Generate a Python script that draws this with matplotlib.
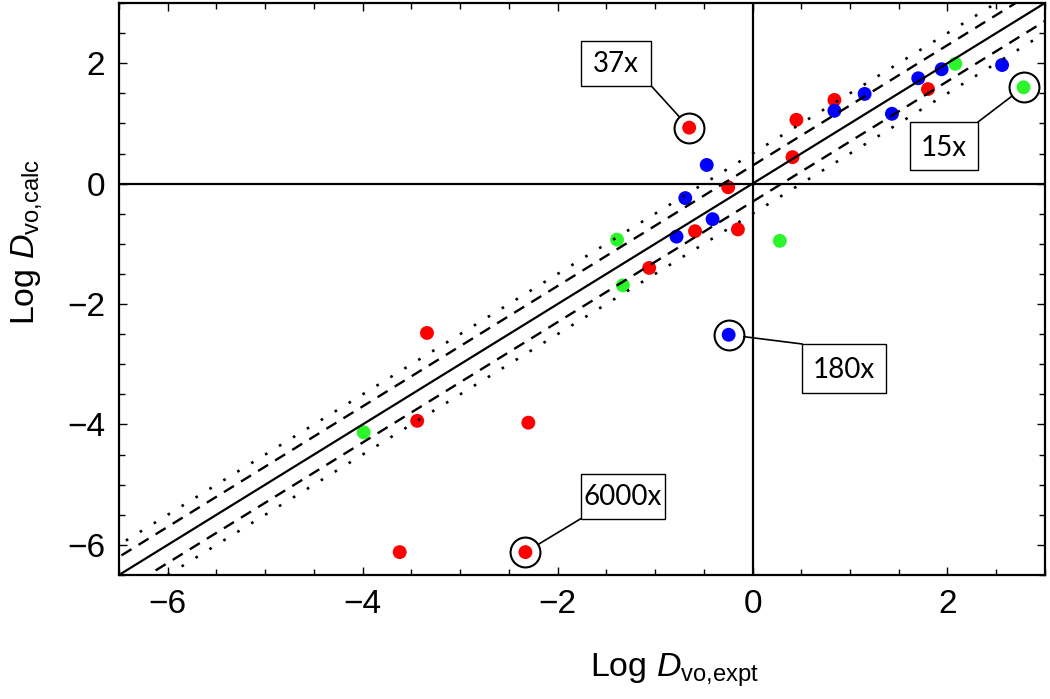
import numpy as np
import matplotlib
matplotlib.use("Agg")
import matplotlib.pyplot as plt
import matplotlib.patches as mpatches
import matplotlib.transforms as mtransforms

plt.rcParams['font.family'] = ['Liberation Sans', 'DejaVu Sans']
plt.rcParams['mathtext.fontset'] = 'custom'
plt.rcParams['mathtext.rm'] = 'Liberation Sans'
plt.rcParams['mathtext.it'] = 'Liberation Sans:italic'

# значення
red_x = [-0.65, -0.25, -0.59, -0.15, -1.06, 0.45, 0.41, 0.84, 1.80, -3.34, -3.44, -2.30, -3.62, -2.33]
red_y = [0.93, -0.06, -0.79, -0.76, -1.40, 1.06, 0.44, 1.39, 1.57, -2.48, -3.94, -3.97, -6.12, -6.12]
blue_x = [-0.47, -0.69, -0.41, -0.78, 0.84, 1.15, 1.43, 1.70, 1.94, 2.56, -0.245]
blue_y = [0.31, -0.24, -0.59, -0.88, 1.21, 1.49, 1.16, 1.75, 1.90, 1.97, -2.51]
green_x = [0.28, -1.39, -1.33, 2.08, 2.78, -3.99]
green_y = [-0.95, -0.93, -1.69, 1.99, 1.60, -4.13]

# виділені точки та підписи
out_x = [-0.65, 2.78, -0.245, -2.33]
out_y = [0.93, 1.60, -2.51, -6.12]
out_labels = ["37x", "15x", "180x", "6000x"]
label_x = [-1.40, 1.96, 0.94, -1.33]
label_y = [2.00, 0.62, -3.07, -5.19]
# розмір рамки (дюйми) і кут, з якого йде лінія
box_w = [0.70, 0.68, 0.84, 0.84]
box_h = [0.45, 0.48, 0.49, 0.45]
label_corner = [(1, -1), (1, 1), (-1, 1), (-1, -1)]

dashed_off = 0.3
dotted_off = 0.5

fig = plt.figure(figsize=(10.5, 6.99), dpi=100)
ax = fig.add_axes([0.1133, 0.1774, 0.8819, 0.8183])

xs = np.array([-7, 4])
ax.plot(xs, xs, color='black', lw=1.6, zorder=3)
for s in (1, -1):
    ax.plot(xs, xs + s * dashed_off, color='black', lw=1.7, ls=(0, (5, 3.5)), zorder=3)
    ax.plot(xs, xs + s * dotted_off, color='black', lw=1.9, ls=(0, (1, 5.2)), zorder=3)

ax.axhline(0, color='black', lw=1.6, zorder=3)
ax.axvline(0, color='black', lw=1.6, zorder=3)

ax.scatter(red_x, red_y, s=100, color='#ff0000', edgecolors='none', zorder=2)
ax.scatter(blue_x, blue_y, s=100, color='#0000ff', edgecolors='none', zorder=2)
ax.scatter(green_x, green_y, s=100, color='#2cf52c', edgecolors='none', zorder=2)

ax.plot(out_x, out_y, 'o', ms=21.5, mfc='none', mec='black', mew=1.5, zorder=4)

for i in range(len(out_labels)):
    tr = fig.dpi_scale_trans + mtransforms.ScaledTranslation(label_x[i], label_y[i], ax.transData)
    w, h = box_w[i], box_h[i]
    ax.add_patch(mpatches.Rectangle((-w / 2, -h / 2), w, h, transform=tr,
                                    fc='white', ec='black', lw=1.0, zorder=5))
    ax.text(label_x[i], label_y[i] - 0.02, out_labels[i], ha='center', va='center',
            fontsize=20, family='Lato', zorder=6)
    cx, cy = label_corner[i]
    ax.annotate('', xy=(out_x[i], out_y[i]), xytext=(cx * w / 2, cy * h / 2), textcoords=tr,
                arrowprops=dict(arrowstyle='-', color='black', lw=1.2, shrinkA=0, shrinkB=11),
                zorder=4)

ax.set_xlim(-6.5, 3)
ax.set_ylim(-6.5, 3)
ax.set_xticks([-6, -4, -2, 0, 2])
ax.set_yticks([-6, -4, -2, 0, 2])
ax.set_xticklabels(['\u22126', '\u22124', '\u22122', '0', '2'])
ax.set_yticklabels(['\u22126', '\u22124', '\u22122', '0', '2'])
ax.set_xticks(np.arange(-6.5, 3.01, 0.5), minor=True)
ax.set_yticks(np.arange(-6.5, 3.01, 0.5), minor=True)
ax.tick_params(which='both', direction='in', top=True, right=True, width=1.0)
ax.tick_params(which='major', length=5.5, pad=10, labelsize=24)
ax.tick_params(which='minor', length=4)
for sp in ax.spines.values():
    sp.set_linewidth(1.6)

ax.set_xlabel(r'Log $D_{\mathrm{vo{,}expt}}$', fontsize=24.5)
ax.set_ylabel(r'Log $D_{\mathrm{vo{,}calc}}$', fontsize=24.5)
ax.xaxis.set_label_coords(0.60, -0.166)
ax.yaxis.set_label_coords(-0.10, 0.582)
ax.xaxis.label.set_va('center')
ax.yaxis.label.set_va('center')

fig.savefig('out.png', dpi=100)
